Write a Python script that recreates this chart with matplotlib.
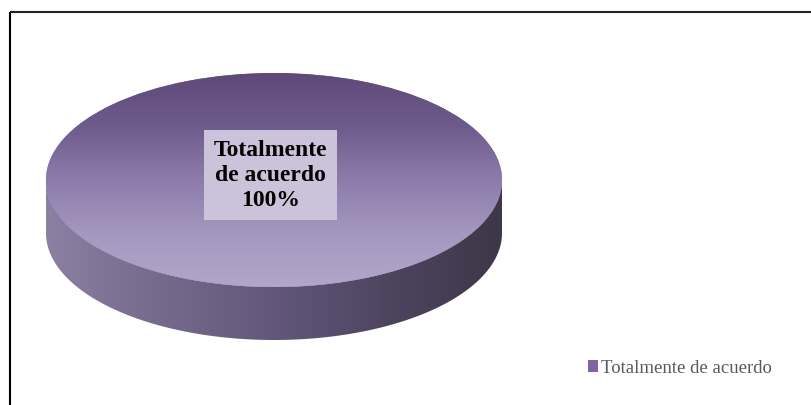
import numpy as np
import matplotlib.pyplot as plt
from matplotlib.patches import Polygon
from matplotlib.colors import LinearSegmentedColormap

categories = ['Totalmente de acuerdo']
values = [100]
slice_color = '#8064a2'

W, H = 812, 406
fig = plt.figure(figsize=(W / 100, H / 100), dpi=100)
fig.patch.set_facecolor('white')

# full-figure axes in pixel units, for the frame
ax = fig.add_axes([0, 0, 1, 1])
ax.set_xlim(0, W)
ax.set_ylim(H, 0)
ax.axis('off')
ax.plot([10, 10], [H, 13], color='black', lw=1.5, solid_capstyle='butt')
ax.plot([10, W], [13, 13], color='#222222', lw=1.5, solid_capstyle='butt')

# pie geometry (pixels)
cx, cy, a, b, depth = 274, 181, 228, 107, 53
d = depth / b
pax = fig.add_axes([(cx - a) / W, (H - (cy + b + depth)) / H,
                    2 * a / W, (2 * b + depth) / H])
wedges, _ = pax.pie(values, radius=1, startangle=90, colors=[slice_color],
                    wedgeprops=dict(linewidth=0))
pax.set_aspect('auto')
pax.set_xlim(-1, 1)
pax.set_ylim(-1 - d, 1)
pax.axis('off')

# side of the cylinder
t = np.linspace(np.pi, 2 * np.pi, 200)
side_xy = np.concatenate([np.c_[np.cos(t), np.sin(t)],
                          np.c_[np.cos(t[::-1]), np.sin(t[::-1]) - d]])
side = Polygon(side_xy, closed=True, facecolor='none', edgecolor='none')
pax.add_patch(side)
side_cmap = LinearSegmentedColormap.from_list(
    'side', ['#8c80a2', '#766a8c', '#62577a', '#4d4560', '#3d3748'])
im = pax.imshow(np.linspace(0, 1, 256)[None, :], cmap=side_cmap,
                extent=[-1, 1, -1 - d, 0], aspect='auto', zorder=2)
im.set_clip_path(side)

# top face gradient
top_cmap = LinearSegmentedColormap.from_list(
    'top', ['#b3a6cb', '#a597bf', '#8d7cab', '#6e5b8d', '#5e4978'])
im2 = pax.imshow(np.linspace(0, 1, 256)[:, None], cmap=top_cmap,
                 extent=[-1, 1, -1, 1], aspect='auto', origin='lower', zorder=3)
im2.set_clip_path(wedges[0])

pct = values[0] / sum(values)
label = categories[0].replace(' de ', '\nde ') + f'\n{pct:.0%}'
pax.text(-0.015, 0.047, label, ha='center', va='center', fontsize=17,
         fontweight='bold', family='Liberation Serif', linespacing=1.25,
         color='black', zorder=5,
         bbox=dict(boxstyle='square,pad=0.4', facecolor='#cbc3d9',
                   edgecolor='none'))

fig.legend(wedges, categories, loc='center left',
           bbox_to_anchor=(588 / W, 1 - 369 / H), frameon=False,
           handlelength=0.55, handleheight=0.55, handletextpad=0.15,
           borderpad=0, borderaxespad=0,
           prop={'family': 'Liberation Serif', 'size': 13.5},
           labelcolor='#595959')

fig.savefig('out.png', dpi=100)
